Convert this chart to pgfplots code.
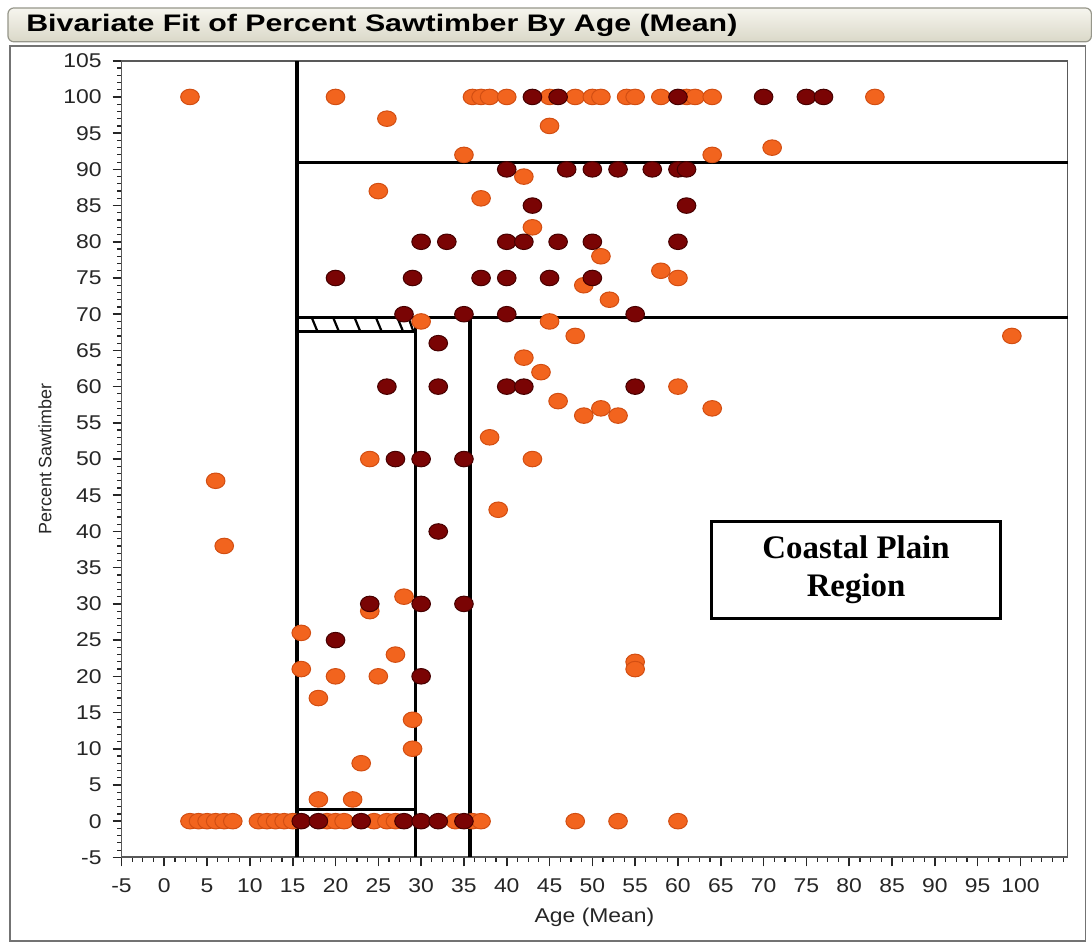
\documentclass[border=0pt]{standalone}
\usepackage{pgfplots}
\pgfplotsset{compat=1.18}
\usepackage{fontspec}
\setmainfont{Liberation Sans}
\newfontfamily\tickfont{Liberation Sans}[FakeStretch=1.15]
\newfontfamily\serifb{Liberation Serif}
\definecolor{orangept}{RGB}{242,100,30}
\definecolor{orangeedge}{RGB}{210,78,18}
\definecolor{darkpt}{RGB}{122,4,4}
\definecolor{darkedge}{RGB}{70,0,0}
\definecolor{bartop}{RGB}{246,245,238}
\definecolor{barbot}{RGB}{218,216,200}
\definecolor{barline}{RGB}{150,150,138}

\pgfplotstableread{
x y
3 100
20 100
36 100
37 100
38 100
40 100
45 100
48 100
50 100
51 100
54 100
55 100
58 100
61 100
62 100
64 100
83 100
26 97
45 96
35 92
64 92
71 93
42 89
37 86
25 87
43 82
51 78
49 74
58 76
60 75
52 72
30 69
45 69
48 67
99 67
42 64
44 62
60 60
46 58
49 56
51 57
53 56
64 57
43 50
38 53
39 43
24 50
6 47
7 38
24 29
28 31
16 26
27 23
16 21
20 20
25 20
18 17
29 14
29 10
23 8
18 3
22 3
55 22
55 21
3 0
4 0
5 0
6 0
7 0
8 0
11 0
12 0
13 0
14 0
15 0
19 0
20 0
21 0
24.5 0
26 0
27 0
34 0
36 0
37 0
48 0
53 0
60 0
}\orangedata

\pgfplotstableread{
x y
43 100
46 100
60 100
70 100
75 100
77 100
40 90
47 90
50 90
53 90
57 90
60 90
61 90
43 85
61 85
30 80
33 80
40 80
42 80
46 80
50 80
60 80
20 75
29 75
37 75
40 75
45 75
50 75
28 70
35 70
40 70
55 70
32 66
26 60
32 60
40 60
42 60
55 60
27 50
30 50
35 50
32 40
24 30
30 30
35 30
20 25
30 20
16 0
18 0
23 0
28 0
30 0
32 0
35 0
}\darkdata

\begin{document}
\begin{tikzpicture}
% page extent (1px = 0.5pt), axis SW corner at origin
\path (-61pt,-45pt) rectangle (485pt,430.5pt);
% title bar
\shade[top color=bartop, bottom color=barbot, draw=barline, line width=0.6pt, rounded corners=3pt]
  (-57pt,409.5pt) rectangle (487pt,426.5pt);
% outer frame
\draw[draw=black!55, line width=0.8pt] (-56pt,-42pt) rectangle (484pt,407.5pt);
\fill[white] (-55.6pt,-41.6pt) rectangle (483.6pt,407.1pt);
\begin{axis}[
  at={(0,0)}, anchor=south west,
  scale only axis, width=475pt, height=400pt,
  xmin=-5, xmax=105.5, ymin=-5, ymax=105,
  xtick={-5,0,...,100}, ytick={-5,0,...,105},
  minor xtick={-3.75,-2.5,...,105}, minor ytick={-4,-3,...,104},
  tick align=outside, xtick pos=left, ytick pos=left,
  major tick length=4.5pt, minor tick length=2.2pt,
  every tick/.style={black!85, line width=0.8pt},
  every minor tick/.style={black!85, line width=0.6pt},
  axis line style={draw=black!65, line width=0.9pt},
  /pgf/number format/assume math mode=true,
  ticklabel style={font=\tickfont\fontsize{10}{12}\selectfont, text=black!85},
  xticklabel style={yshift=-2.5pt},
  yticklabel style={xshift=-2pt},
  xlabel={Age (Mean)},
  ylabel={Percent Sawtimber},
  xlabel style={at={(axis description cs:0.5,-0.075)}, anchor=center, font=\tickfont\fontsize{10}{12}\selectfont, text=black!85},
  ylabel style={at={(axis description cs:-0.081,0.5)}, anchor=center, font=\fontsize{9}{11}\selectfont, text=black!85},
  title={\resizebox{357pt}{\height}{Bivariate Fit of Percent Sawtimber By Age (Mean)}},
  title style={at={(axis description cs:-0.101,1.045)}, anchor=west, yshift=-6pt, font=\bfseries\fontsize{12}{14}\selectfont, inner sep=0pt},
  clip=false,
]
\addplot[only marks, mark=*, mark size=3.9pt, mark options={xscale=1.2, fill=orangept, draw=orangeedge, line width=0.5pt}]
  table[x=x, y=y] {\orangedata};
\addplot[only marks, mark=*, mark size=3.9pt, mark options={xscale=1.2, fill=darkpt, draw=darkedge, line width=0.5pt}]
  table[x=x, y=y] {\darkdata};
% partition lines
\addplot[black, line width=1.6pt] coordinates {(15.5,-5) (15.5,105)};
\addplot[black, line width=1.6pt] coordinates {(15.5,91) (105.5,91)};
\addplot[black, line width=1.6pt] coordinates {(15.5,69.6) (105.5,69.6)};
\addplot[black, line width=1.6pt] coordinates {(15.5,67.6) (29.3,67.6)};
\addplot[black, line width=1.6pt] coordinates {(29.3,69.6) (29.3,-5)};
\addplot[black, line width=1.6pt] coordinates {(35.7,69.6) (35.7,-5)};
\addplot[black, line width=1.6pt] coordinates {(15.5,1.6) (29.3,1.6)};
% hatching
\addplot[black, line width=1.1pt, unbounded coords=jump] coordinates {
 (17.2,69.6) (17.9,67.6) (17.9,nan)
 (19.7,69.6) (20.4,67.6) (20.4,nan)
 (22.2,69.6) (22.9,67.6) (22.9,nan)
 (24.7,69.6) (25.4,67.6) (25.4,nan)
 (27.2,69.6) (27.9,67.6) (27.9,nan)
 (28.5,69.6) (29.1,67.6)
};
\node[draw=black, line width=1.5pt, fill=white, minimum width=145pt, minimum height=48.5pt,
      align=center, inner sep=2pt,
      font=\serifb\bfseries\fontsize{16.5}{19}\selectfont]
  at (axis cs:80.8,34.7) {Coastal Plain\\Region};
\end{axis}
\end{tikzpicture}
\end{document}
